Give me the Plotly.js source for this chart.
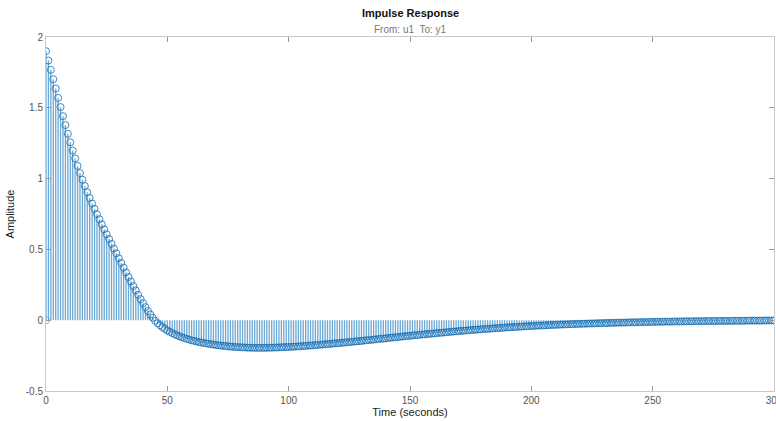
<!DOCTYPE html>
<html>
<head>
<meta charset="utf-8">
<script src="https://cdn.plot.ly/plotly-3.0.1.min.js"></script>
<style>html,body{margin:0;padding:0;background:#fff;}#chart{width:776px;height:421px;}</style>
</head>
<body>
<div id="chart"></div>
<script>
const sampleTime = 1;
const amplitude = [
1.900,1.834,1.768,1.702,1.636,1.570,1.505,1.441,1.378,1.316,
1.256,1.198,1.142,1.089,1.039,0.992,0.947,0.904,0.863,0.824,
0.786,0.749,0.713,0.677,0.642,0.607,0.573,0.539,0.506,0.472,
0.438,0.404,0.371,0.338,0.305,0.273,0.241,0.210,0.179,0.149,
0.120,0.092,0.065,0.040,0.017,-0.004,-0.021,-0.036,-0.049,-0.061,
-0.072,-0.082,-0.091,-0.099,-0.107,-0.114,-0.120,-0.126,-0.132,-0.137,
-0.142,-0.146,-0.150,-0.154,-0.158,-0.161,-0.164,-0.167,-0.170,-0.172,
-0.175,-0.177,-0.179,-0.181,-0.183,-0.185,-0.186,-0.188,-0.189,-0.190,
-0.191,-0.192,-0.193,-0.194,-0.194,-0.195,-0.195,-0.195,-0.195,-0.195,
-0.195,-0.195,-0.194,-0.194,-0.193,-0.193,-0.192,-0.191,-0.190,-0.190,
-0.189,-0.188,-0.187,-0.186,-0.185,-0.184,-0.183,-0.181,-0.180,-0.179,
-0.178,-0.176,-0.175,-0.173,-0.172,-0.170,-0.169,-0.167,-0.166,-0.164,
-0.163,-0.161,-0.159,-0.158,-0.156,-0.154,-0.153,-0.151,-0.149,-0.148,
-0.146,-0.144,-0.142,-0.140,-0.139,-0.137,-0.135,-0.133,-0.131,-0.130,
-0.128,-0.126,-0.124,-0.122,-0.121,-0.119,-0.117,-0.115,-0.113,-0.112,
-0.110,-0.108,-0.106,-0.105,-0.103,-0.101,-0.100,-0.098,-0.096,-0.095,
-0.093,-0.091,-0.090,-0.088,-0.087,-0.085,-0.083,-0.082,-0.080,-0.079,
-0.077,-0.076,-0.074,-0.073,-0.071,-0.070,-0.069,-0.067,-0.066,-0.065,
-0.063,-0.062,-0.061,-0.060,-0.058,-0.057,-0.056,-0.055,-0.054,-0.052,
-0.051,-0.050,-0.049,-0.048,-0.047,-0.046,-0.045,-0.044,-0.043,-0.042,
-0.041,-0.040,-0.039,-0.038,-0.037,-0.037,-0.036,-0.035,-0.034,-0.033,
-0.033,-0.032,-0.031,-0.030,-0.030,-0.029,-0.028,-0.028,-0.027,-0.026,
-0.026,-0.025,-0.025,-0.024,-0.023,-0.023,-0.022,-0.022,-0.021,-0.021,
-0.020,-0.020,-0.019,-0.019,-0.018,-0.018,-0.017,-0.017,-0.017,-0.016,
-0.016,-0.015,-0.015,-0.015,-0.014,-0.014,-0.013,-0.013,-0.013,-0.012,
-0.012,-0.012,-0.011,-0.011,-0.011,-0.010,-0.010,-0.010,-0.010,-0.009,
-0.009,-0.009,-0.009,-0.008,-0.008,-0.008,-0.008,-0.007,-0.007,-0.007,
-0.007,-0.007,-0.006,-0.006,-0.006,-0.006,-0.006,-0.005,-0.005,-0.005,
-0.005,-0.005,-0.005,-0.004,-0.004,-0.004,-0.004,-0.004,-0.004,-0.003,
-0.003,-0.003,-0.003,-0.003,-0.003,-0.003,-0.002,-0.002,-0.002,-0.002,
-0.002
];
const extraTime = [0];
const extraValue = [0];
const xTickVals = [0, 50, 100, 150, 200, 250, 300];
const xTickText = ['0', '50', '100', '150', '200', '250', '300'];
const yTickVals = [-0.5, 0, 0.5, 1, 1.5, 2];
const yTickText = ['-0.5', '0', '0.5', '1', '1.5', '2'];

const time = amplitude.map((_, i) => i * sampleTime);
const stemX = [], stemY = [];
time.forEach((t, i) => { stemX.push(t, t, null); stemY.push(0, amplitude[i], null); });

const data = [
  {x: stemX, y: stemY, type: 'scatter', mode: 'lines', line: {color: 'rgba(50,135,195,0.72)', width: 1.3}, hoverinfo: 'skip'},
  {x: time, y: amplitude, type: 'scatter', mode: 'markers',
   marker: {symbol: 'circle-open', size: 7, color: 'rgba(20,110,180,0.8)', line: {width: 1}}},
  {x: extraTime, y: extraValue, type: 'scatter', mode: 'markers',
   marker: {symbol: 'circle-open', size: 7, color: 'rgba(120,160,180,0.8)', line: {width: 1}}}
];

const axisFont = {family: 'Liberation Sans, Arial, sans-serif', size: 10, color: '#555'};
const layout = {
  width: 776, height: 421,
  margin: {l: 46, r: 2, t: 37, b: 30},
  showlegend: false,
  paper_bgcolor: '#fff', plot_bgcolor: '#fff',
  xaxis: {
    range: [0, 300], tickvals: xTickVals, ticktext: xTickText, ticklabeloverflow: 'allow',
    ticks: 'inside', ticklen: 5, tickcolor: '#999', showline: true, linecolor: '#c8c8c8', linewidth: 1,
    mirror: 'ticks', showgrid: false, zeroline: false, tickfont: axisFont,
    title: {text: 'Time (seconds)', font: {family: 'Liberation Sans, Arial, sans-serif', size: 11, color: '#222'}, standoff: 2}
  },
  yaxis: {
    range: [-0.5, 2], tickvals: yTickVals, ticktext: yTickText,
    ticks: 'inside', ticklen: 5, tickcolor: '#999', showline: true, linecolor: '#c8c8c8', linewidth: 1,
    mirror: 'ticks', showgrid: false, zeroline: false, tickfont: axisFont,
    title: {text: 'Amplitude', font: {family: 'Liberation Sans, Arial, sans-serif', size: 11, color: '#222'}, standoff: 8}
  },
  annotations: [
    {text: '<b>Impulse Response</b>', xref: 'paper', yref: 'paper', x: 0.5, y: 1, yanchor: 'middle', yshift: 24, showarrow: false,
     font: {family: 'Liberation Sans, Arial, sans-serif', size: 11, color: '#111'}},
    {text: 'From: u1  To: y1', xref: 'paper', yref: 'paper', x: 0.5, y: 1, yanchor: 'middle', yshift: 8, showarrow: false,
     font: {family: 'Liberation Sans, Arial, sans-serif', size: 10, color: '#777'}}
  ]
};
Plotly.newPlot('chart', data, layout, {displayModeBar: false, staticPlot: true});
</script>
</body>
</html>
